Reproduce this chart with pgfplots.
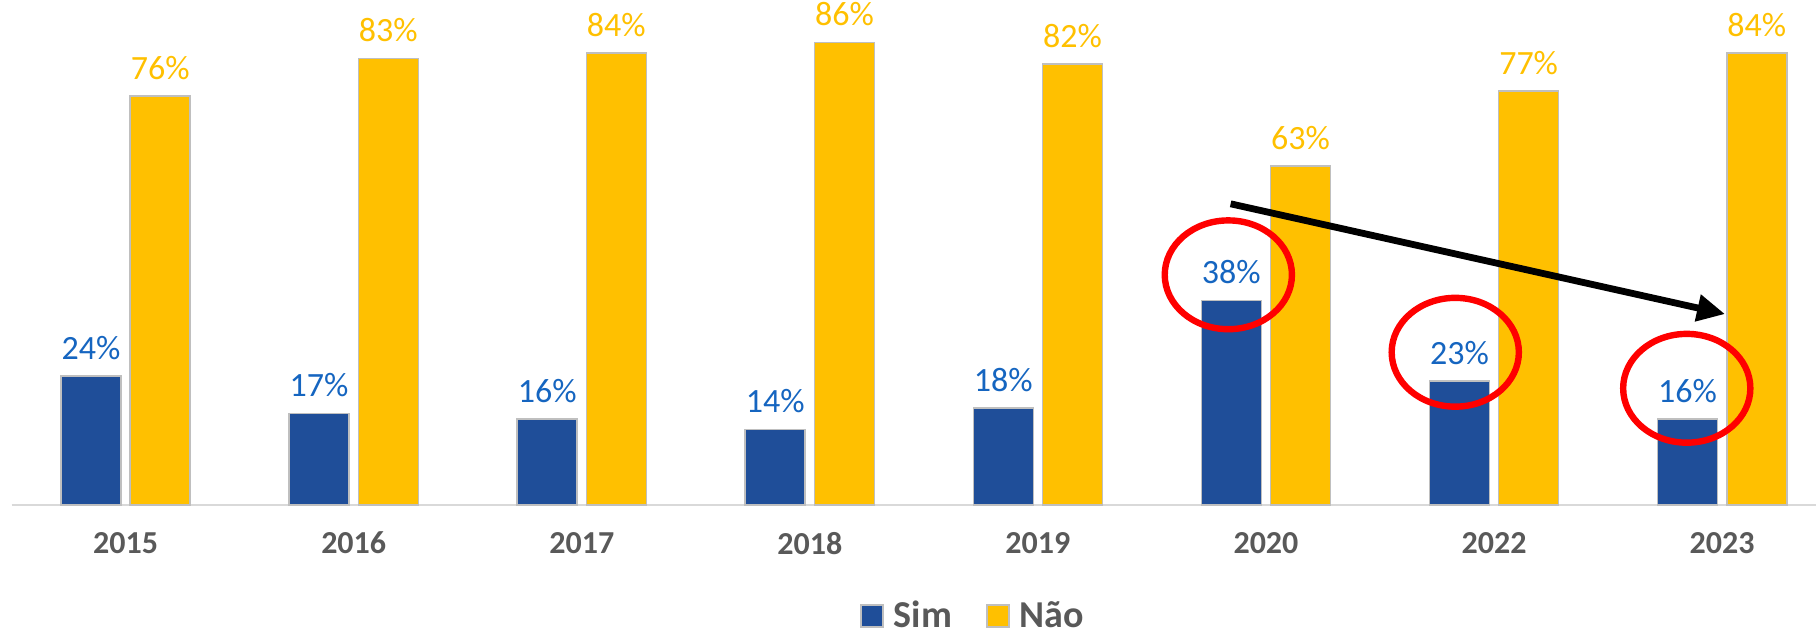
\documentclass[border=0pt]{standalone}
\usepackage{pgfplots}
\pgfplotsset{compat=1.18}
\usepackage{fontspec}
\setmainfont{Carlito}
\usetikzlibrary{arrows.meta}
\definecolor{simblue}{HTML}{1F4E99}
\definecolor{naoyel}{HTML}{FFC000}
\definecolor{lblblue}{HTML}{1565C0}
\definecolor{txtgray}{HTML}{595959}
\definecolor{edgegray}{HTML}{BFBFBF}
\definecolor{axgray}{HTML}{D9D9D9}
\begin{document}
\begin{tikzpicture}
\path[use as bounding box] (-5.8pt,-65pt) rectangle (902.2pt,252.5pt);
\begin{axis}[
  at={(0,0)}, anchor=south west,
  scale only axis, width=902pt, height=252.5pt,
  ymin=0, ymax=93.9, xmin=-0.5, xmax=7.41,
  ybar=4.6pt, bar width=30pt,
  axis y line=none, axis x line*=bottom,
  x axis line style={draw=axgray, line width=1pt},
  xtick={0,1,2,3,4,5,6,7},
  xticklabels={2015,2016,2017,2018,2019,2020,2022,2023},
  major tick length=0pt,
  xticklabel style={font=\bfseries\fontsize{16}{16}\selectfont, text=txtgray, yshift=-10pt},
  clip=false,
  legend image code/.code={\draw[#1, draw=edgegray, line width=0.8pt] (0pt,-5.5pt) rectangle (11pt,5.5pt);},
  legend style={draw=none, fill=none, at={(0.533,-0.22)}, anchor=center, inner sep=0pt,
    legend columns=2, font=\bfseries\fontsize{19}{19}\selectfont, text=txtgray,
    nodes={inner sep=1pt},
    /tikz/every odd column/.append style={column sep=4pt},
    /tikz/every even column/.append style={column sep=16pt}},
  nodes near coords={\pgfmathprintnumber[assume math mode=true]{\pgfplotspointmeta}\%},
]
\addplot[fill=simblue, draw=edgegray, line width=0.8pt,
  every node near coord/.append style={text=lblblue, font=\fontsize{17}{17}\selectfont, yshift=4.5pt}]
  coordinates {(0,24) (1,17) (2,16) (3,14) (4,18) (5,38) (6,23) (7,16)};
\addlegendentry{Sim}
\addplot[fill=naoyel, draw=edgegray, line width=0.8pt,
  every node near coord/.append style={text=naoyel, font=\fontsize{17}{17}\selectfont, yshift=4.5pt}]
  coordinates {(0,76) (1,83) (2,84) (3,86) (4,82) (5,63) (6,77) (7,84)};
\addlegendentry{Não}
\draw[red, line width=3.2pt] (axis cs:4.835,42.8) ellipse [x radius=31.8pt, y radius=27.2pt];
\draw[red, line width=3.2pt] (axis cs:5.83,28.4) ellipse [x radius=31.8pt, y radius=27.2pt];
\draw[red, line width=3.2pt] (axis cs:6.845,21.7) ellipse [x radius=31.8pt, y radius=27.2pt];
\draw[black, line width=3.4pt, -{Triangle[length=14pt, width=13pt]}] (axis cs:4.845,56.0) -- (axis cs:7.013,35.5);
\end{axis}
\end{tikzpicture}
\end{document}
